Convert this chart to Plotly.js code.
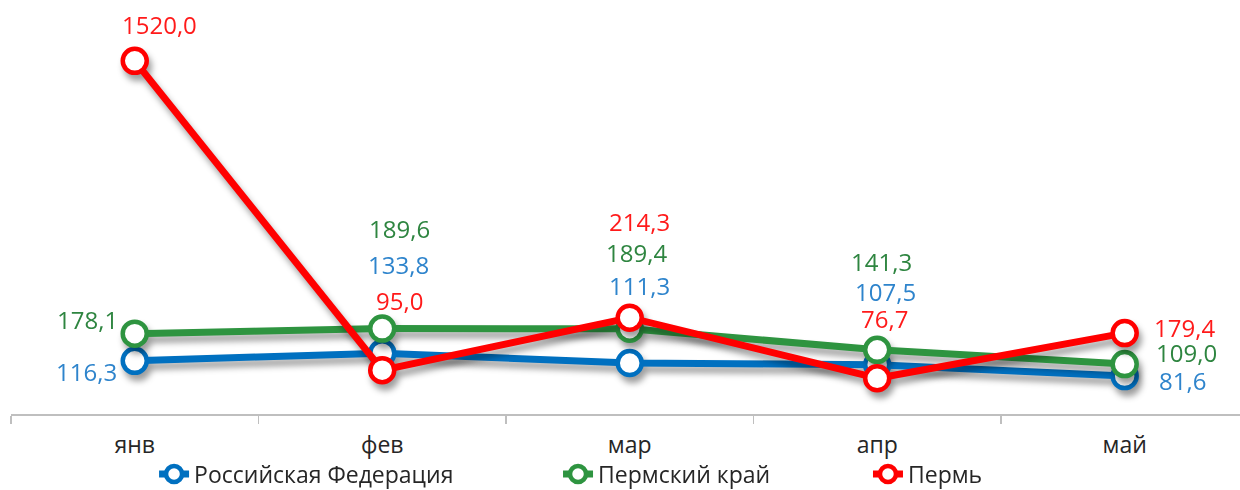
<!DOCTYPE html>
<html>
<head>
<meta charset="utf-8">
<script src="https://cdn.plot.ly/plotly-3.0.1.min.js"></script>
<style>
html,body{margin:0;padding:0;background:#fff;}
#chart{width:1240px;height:490px;}
.scatterlayer g.trace{filter:drop-shadow(3px 6px 3px rgba(0,0,0,0.38));}
</style>
</head>
<body>
<div id="chart"></div>
<script>
// ---- data ----
const months = ['янв', 'фев', 'мар', 'апр', 'май'];
const seriesNames = ['Российская Федерация', 'Пермский край', 'Пермь'];
const rfValues = [116.3, 133.8, 111.3, 107.5, 81.6];
const krayValues = [178.1, 189.6, 189.4, 141.3, 109.0];
const permValues = [1520.0, 95.0, 214.3, 76.7, 179.4];
const permPlotted = [798, 95.0, 214.3, 76.7, 179.4];

// ---- styles ----
const lineColors = ['#0070C0', '#2E9440', '#FF0000'];
const labelColors = ['#2E84CC', '#2E8540', '#FF1A1A'];
// label offsets in pixels [xshift, yshift] per point
const labelOffsets = [
  [[-48,-11],[16,89],[10,78],[8,73],[58,-4]],
  [[-47,14],[17,100],[7,76],[4,88],[62,12]],
  [[25,36],[17,70],[10,96],[7,60],[60,6]]
];
const legendIds = ['legend', 'legend2', 'legend3'];
const legendX = [0.1164, 0.4451, 0.6973];

const fmt = v => v.toFixed(1).replace('.', ',');
const plotted = [rfValues, krayValues, permPlotted];
const labelled = [rfValues, krayValues, permValues];

const traces = plotted.map((vals, i) => ({
  type: 'scatter',
  mode: 'lines+markers',
  name: seriesNames[i],
  legend: legendIds[i],
  x: months,
  y: vals,
  line: {color: lineColors[i], width: 7},
  marker: {size: 24, color: '#FFFFFF', line: {color: lineColors[i], width: 4.5}},
  cliponaxis: false,
  hoverinfo: 'skip'
}));

const annotations = [];
labelled.forEach((vals, i) => {
  vals.forEach((v, j) => {
    annotations.push({
      x: months[j], y: plotted[i][j], xref: 'x', yref: 'y',
      text: fmt(v), showarrow: false,
      xanchor: 'center', yanchor: 'middle',
      xshift: labelOffsets[i][j][0], yshift: labelOffsets[i][j][1],
      font: {family: 'Open Sans, sans-serif', size: 24, color: labelColors[i]}
    });
  });
});

const layout = {
  width: 1240, height: 490,
  margin: {l: 11, r: 0, t: 10, b: 76, autoexpand: false},
  paper_bgcolor: '#FFFFFF', plot_bgcolor: '#FFFFFF',
  showlegend: true,
  xaxis: {
    type: 'category', range: [-0.5, 4.466], automargin: false,
    showline: true, linecolor: '#BFBFBF', linewidth: 1.5,
    showgrid: false, zeroline: false,
    ticks: 'outside', tickson: 'boundaries', ticklen: 8, tickcolor: '#BFBFBF', tickwidth: 1.5,
    ticklabelstandoff: 10,
    tickfont: {family: 'Open Sans, sans-serif', size: 23, color: '#262626'}
  },
  yaxis: {
    range: [-4.5, 913.6], visible: false, showgrid: false, zeroline: false, fixedrange: true, automargin: false
  },
  annotations: annotations
};
legendIds.forEach((id, i) => {
  layout[id] = {
    orientation: 'h', x: legendX[i], xanchor: 'left',
    y: 16 / 490, yref: 'container', yanchor: 'middle',
    font: {family: 'Open Sans, sans-serif', size: 23, color: '#262626'},
    bgcolor: 'rgba(0,0,0,0)'
  };
});

Plotly.newPlot('chart', traces, layout, {displayModeBar: false, staticPlot: true});
</script>
</body>
</html>
